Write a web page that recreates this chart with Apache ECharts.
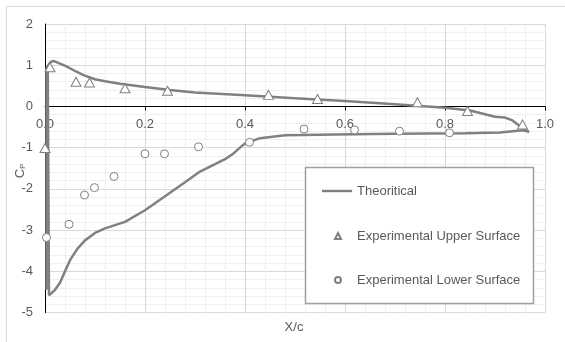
<!DOCTYPE html>
<html>
<head>
<meta charset="utf-8">
<script src="https://cdn.jsdelivr.net/npm/echarts@6/dist/echarts.min.js"></script>
<style>html,body{margin:0;padding:0;background:#fff;}#c{width:565px;height:342px;}</style>
</head>
<body>
<div id="c"></div>
<script>
// Theoretical Cp distribution (trailing edge upper -> leading edge -> lower -> trailing edge)
var theoryX = [0.968,0.95,0.935,0.92,0.9,0.88,0.85,0.8,0.7,0.6,0.5,0.4,0.3,0.25,0.2,0.15,0.12,0.1,0.077,0.06,0.043,0.03,0.018,0.013,0.008,0.003,
  0.003,0.0055,0.0055,0.008,0.008,
  0.013,0.02,0.03,0.04,0.05,0.065,0.08,0.1,0.12,0.16,0.2,0.24,0.28,0.31,0.34,0.36,0.377,0.39,0.4,0.43,0.48,0.58,0.7,0.84,0.91,0.955,0.968];
var theoryCp = [-0.63,-0.48,-0.34,-0.27,-0.25,-0.19,-0.1,-0.03,0.05,0.13,0.2,0.27,0.34,0.4,0.47,0.55,0.61,0.66,0.76,0.86,0.97,1.04,1.1,1.09,1.03,0.93,
  -4.45,-4.45,0.88,0.88,-4.58,
  -4.53,-4.45,-4.28,-4.0,-3.73,-3.45,-3.25,-3.07,-2.96,-2.8,-2.52,-2.18,-1.84,-1.58,-1.4,-1.28,-1.14,-1.0,-0.9,-0.77,-0.7,-0.68,-0.66,-0.65,-0.63,-0.58,-0.61];
// Experimental upper surface
var upperX  = [0.01,0.0,0.062,0.089,0.16,0.245,0.447,0.545,0.745,0.845,0.955];
var upperCp = [0.95,-1.01,0.6,0.58,0.44,0.38,0.28,0.18,0.1,-0.11,-0.44];
// Experimental lower surface
var lowerX  = [0.003,0.048,0.079,0.099,0.138,0.2,0.239,0.307,0.409,0.518,0.619,0.709,0.809];
var lowerCp = [-3.18,-2.86,-2.15,-1.97,-1.7,-1.15,-1.15,-0.98,-0.87,-0.55,-0.57,-0.6,-0.64];
var seriesNames = ['Theoritical','Experimental Upper Surface','Experimental Lower Surface'];
var X_MIN = 0, X_MAX = 1, X_STEP = 0.2;
var Y_MIN = -5, Y_MAX = 2, Y_STEP = 1;

function zip(a,b){return a.map(function(v,i){return [v,b[i]];});}
var FONT = 'Liberation Sans';
var W = 565, H = 342;
var GRID = {left:45,right:20,top:24,bottom:29.5};
var plotH = H - GRID.top - GRID.bottom;
// place the x axis on Cp = 0 (axis crosses at zero)
var xAxisOffset = -plotH * (0 - Y_MIN) / (Y_MAX - Y_MIN);

var chart = echarts.init(document.getElementById('c'), null, {renderer:'canvas'});
chart.setOption({
  animation:false,
  backgroundColor:'#ffffff',
  textStyle:{fontFamily:FONT},
  grid:{left:GRID.left,right:GRID.right,top:GRID.top,bottom:GRID.bottom,containLabel:false},
  xAxis:{type:'value',min:X_MIN,max:X_MAX,interval:X_STEP,position:'bottom',offset:xAxisOffset,
    axisLine:{show:true,onZero:false,lineStyle:{color:'#000',width:1}},
    axisTick:{show:true,length:4,lineStyle:{color:'#000'}},
    axisLabel:{formatter:function(v){return v.toFixed(1);},color:'#595959',fontSize:13,margin:11,fontFamily:FONT},
    splitLine:{show:true,lineStyle:{color:'#d9d9d9',width:1}},
    minorTick:{show:false,splitNumber:5},
    minorSplitLine:{show:true,lineStyle:{color:'#f0f0f0',width:1}}
  },
  yAxis:{type:'value',min:Y_MIN,max:Y_MAX,interval:Y_STEP,
    axisLine:{show:true,onZero:false,lineStyle:{color:'#000',width:1}},
    axisTick:{show:false},
    axisLabel:{color:'#595959',fontSize:13,margin:12,fontFamily:FONT},
    splitLine:{show:true,lineStyle:{color:'#d9d9d9',width:1}},
    minorTick:{show:false,splitNumber:5},
    minorSplitLine:{show:true,lineStyle:{color:'#f0f0f0',width:1}}
  },
  legend:[
    {orient:'vertical',left:305,top:167,padding:[17,0,0,17],itemWidth:30,itemHeight:6,
      textStyle:{color:'#595959',fontSize:13,fontFamily:FONT,lineHeight:14},
      data:[{name:seriesNames[0],icon:'path://M0,0L100,0L100,8L0,8Z',itemStyle:{color:'#808080',borderWidth:0}}], z:10},
    {orient:'vertical',left:334,top:229,padding:0,itemGap:30,itemWidth:6,itemHeight:6,
      textStyle:{color:'#595959',fontSize:13,fontFamily:FONT,lineHeight:14,padding:[0,0,0,11]},
      data:[{name:seriesNames[1],icon:'triangle'},{name:seriesNames[2],icon:'circle'}], z:10}
  ],
  graphic:[
    {type:'rect',shape:{x:6.5,y:6.5,width:700,height:500},style:{fill:'none',stroke:'#d9d9d9',lineWidth:1},z:-10,silent:true},
    {type:'rect',shape:{x:305.5,y:167.5,width:228,height:136},style:{fill:'#ffffff',stroke:'#a0a0a0',lineWidth:1.5},z:5,silent:true},
    {type:'text',x:294,y:327,style:{text:'X/c',fill:'#595959',font:'13px '+FONT,textAlign:'center',textVerticalAlign:'middle'},z:10},
    {type:'text',x:20,y:171,rotation:Math.PI/2,style:{text:'{a|C}{b|P}',rich:{a:{fontSize:13,fill:'#595959',fontFamily:FONT},b:{fontSize:8,fill:'#595959',fontFamily:FONT,padding:[6,0,0,0]}},textAlign:'center',textVerticalAlign:'middle'},z:10}
  ],
  series:[
    {name:seriesNames[0],type:'line',data:zip(theoryX,theoryCp),symbol:'none',smooth:false,
      lineStyle:{color:'#808080',width:2.5},itemStyle:{color:'#808080'},z:2},
    {name:seriesNames[1],type:'scatter',data:zip(upperX,upperCp),symbol:'triangle',symbolSize:[10,9],
      itemStyle:{color:'#ffffff',borderColor:'#808080',borderWidth:1,opacity:1},z:3},
    {name:seriesNames[2],type:'scatter',data:zip(lowerX,lowerCp),symbol:'circle',symbolSize:8,
      itemStyle:{color:'#ffffff',borderColor:'#808080',borderWidth:1,opacity:1},z:3}
  ]
});
</script>
</body>
</html>
